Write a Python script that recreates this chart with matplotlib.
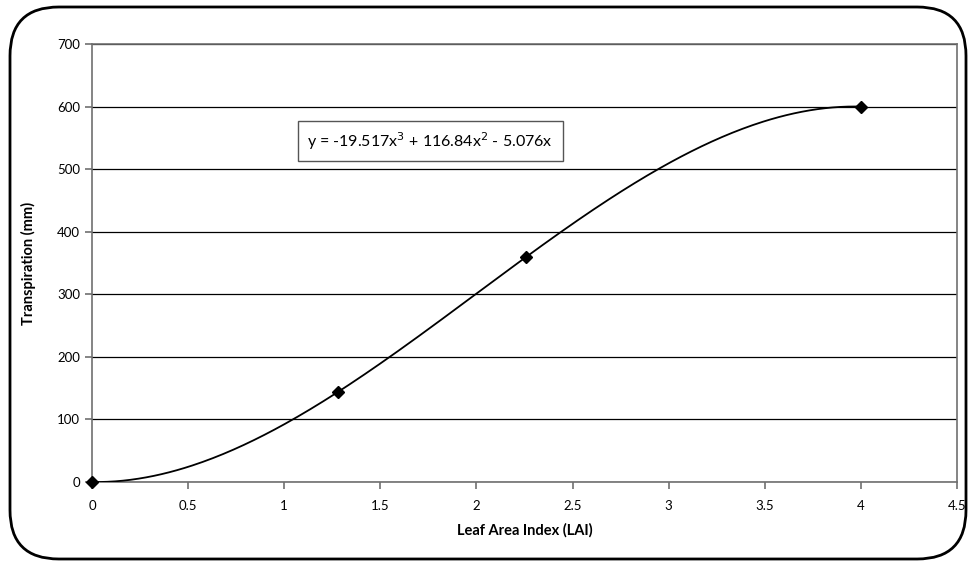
import numpy as np
import matplotlib
matplotlib.use("Agg")
import matplotlib.pyplot as plt
from matplotlib.patches import FancyBboxPatch

# measured points (LAI vs transpiration)
lai = [0, 1.28, 2.26, 4]
transp = [0, 144, 360, 600]

# cubic trend through the origin, fitted from the points
X = np.column_stack([np.power(lai, 3), np.power(lai, 2), lai])
coef, *_ = np.linalg.lstsq(X, np.array(transp, float), rcond=None)
xs = np.linspace(0, max(lai), 300)
ys = coef[0] * xs**3 + coef[1] * xs**2 + coef[2] * xs

plt.rcParams['font.family'] = ['Lato', 'DejaVu Sans']

fig = plt.figure(figsize=(9.76, 5.67), dpi=100)
fig.patches.append(FancyBboxPatch((10/976, 8/567), 956/976, 552/567,
                                  boxstyle="round,pad=0,rounding_size=0.05",
                                  transform=fig.transFigure, fill=False,
                                  lw=2, ec='black', mutation_aspect=976/567))

ax = fig.add_axes([92/976, 1 - 482/567, 865/976, 438/567])
ax.plot(xs, ys, color='black', lw=1.3, zorder=3)
ax.plot(lai, transp, 'D', color='black', ms=6.5, clip_on=False, zorder=4)

ax.set_xlim(0, 4.5)
ax.set_ylim(0, 700)
ax.set_xticks(np.arange(0, 4.51, 0.5))
ax.set_xticklabels(['0', '0.5', '1', '1.5', '2', '2.5', '3', '3.5', '4', '4.5'])
ax.set_yticks(range(0, 701, 100))
ax.yaxis.grid(True, color='black', lw=0.9)
ax.set_axisbelow(True)
for s in ax.spines.values():
    s.set_color('#707070')
    s.set_linewidth(1.2)
ax.tick_params(axis='both', colors='#707070', labelcolor='black', labelsize=9.5,
               length=5, width=1.2)
ax.tick_params(axis='x', pad=8)

ax.set_xlabel('Leaf Area Index (LAI)', fontsize=10.5, fontweight='bold', labelpad=8)
ax.set_ylabel('Transpiration (mm)', fontsize=10.5, fontweight='bold', labelpad=15)

ax.text(1.12, 545, r'y = -19.517x$^3$ + 116.84x$^2$ - 5.076x', fontsize=11.5,
        va='center', ha='left',
        bbox=dict(boxstyle='square,pad=0.6', fc='white', ec='#555555', lw=1))

fig.savefig('out.png', dpi=100)
